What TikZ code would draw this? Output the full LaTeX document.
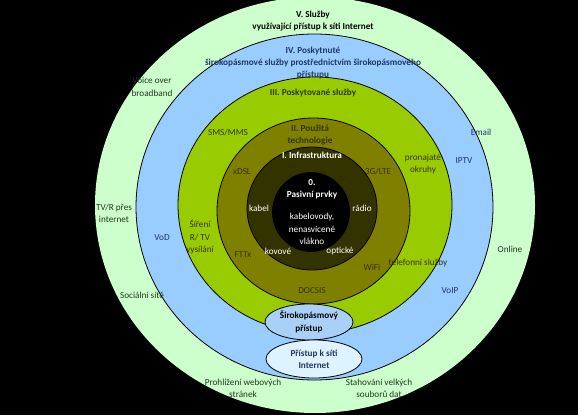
\documentclass[tikz,border=0pt]{standalone}
\usepackage{fontspec}
\setmainfont{Carlito}
\usepackage{tikz}
\usetikzlibrary{shapes.geometric}
\definecolor{cV}{HTML}{CCFFCC}
\definecolor{cIV}{HTML}{99CCFF}
\definecolor{cIII}{HTML}{99CC00}
\definecolor{cII}{HTML}{808000}
\definecolor{cI}{HTML}{333300}
\definecolor{cBrd}{HTML}{A9D1F7}
\definecolor{cNet}{HTML}{DDF3FF}
\definecolor{tV}{HTML}{1F3A1F}
\definecolor{tIV}{HTML}{1F3864}
\definecolor{tIII}{HTML}{333300}

\begin{document}
\begin{tikzpicture}[x=1pt,y=-1pt,
  ring/.style={draw=black, line width=0.8pt, fill=#1},
  txt/.style={font=\fontsize{9.2}{12.3}\selectfont, align=center, inner sep=0pt, text=#1},
  head/.style={txt=#1, font=\fontsize{9.2}{12.3}\selectfont\bfseries},
  bubble/.style={ellipse, draw=black, line width=0.8pt, fill=#1, inner sep=0pt,
     align=center, font=\fontsize{9.2}{12.3}\selectfont\bfseries},
]

% =================== BACKGROUND AND RINGS ===================
\useasboundingbox (0,0) rectangle (578,415);
\fill[black] (0,0) rectangle (578,415);

\fill[cV] (315,205) ellipse [x radius=220pt, y radius=208pt];
\draw[ring=cIV] (314.5,207) ellipse [x radius=178.5pt, y radius=173pt];
\draw[ring=cIII] (315,205) ellipse [x radius=137pt, y radius=128pt];
\draw[ring=cII] (313.5,211) ellipse [x radius=96.5pt, y radius=93pt];
\draw[ring=cI] (312,208.5) ellipse [x radius=65pt, y radius=61.5pt];
\draw[ring=black] (311,212) ellipse [x radius=38.5pt, y radius=39.5pt];

% =================== ACCESS BUBBLES ===================
\node[bubble=cBrd, minimum width=88pt, minimum height=36pt] (brd) at (309,322)
  {Širokopásmový\\přístup};
\node[bubble=cNet, minimum width=96pt, minimum height=38pt, text=tIV] (inet) at (314,359)
  {Přístup k síti\\Internet};

% =================== V. SERVICES USING INTERNET ===================
\node[head=black] (hV) at (313,21) {V. Služby\\využívající přístup k síti Internet};
\node[txt=tV] (vob) at (152,87) {Voice over\\broadband};
\node[txt=tV] (tvr) at (114,213) {TV/R přes\\internet};
\node[txt=tV] (soc) at (142,295) {Sociální sítě};
\node[txt=tV] (onl) at (510,249) {Online};
\node[txt=tV] (web) at (243,388) {Prohlížení webových\\stránek};
\node[txt=tV] (dwn) at (379,388) {Stahování velkých\\souborů dat};

% =================== IV. BROADBAND SERVICES ===================
\node[head=tIV] (hIV) at (313,63)
  {IV. Poskytnuté\\širokopásmové služby prostřednictvím širokopásmového\\přístupu};
\node[txt=tIV] (vod) at (162,238) {VoD};
\node[txt=tIV] (iptv) at (464,161) {IPTV};
\node[txt=tIV] (mail) at (481,132) {Email};
\node[txt=tIV] (voip) at (450,291) {VoIP};

% =================== III. SERVICES OFFERED ===================
\node[head=tIII] (hIII) at (313,93) {III. Poskytované služby};
\node[txt=tIII] (sms) at (228,132) {SMS/MMS};
\node[txt=tIII] (rtv) at (200,237) {Šíření\\R/ TV\\vysílání};
\node[txt=tIII] (okr) at (423,164) {pronajaté\\okruhy};
\node[txt=tIII] (tel) at (418,263) {telefonní služby};

% =================== II. TECHNOLOGY ===================
\node[head=tIII] (hII) at (310,135) {II. Použitá\\technologie};
\node[txt=tIII] (xdsl) at (242,172) {xDSL};
\node[txt=tIII] (lte) at (378,171) {3G/LTE};
\node[txt=tIII] (fttx) at (243,255) {FTTx};
\node[txt=tIII] (wifi) at (372,267) {WiFi};
\node[txt=tIII] (docsis) at (312,291) {DOCSIS};

% =================== I. INFRASTRUCTURE ===================
\node[head=white] (hI) at (312,155) {I. Infrastruktura};
\node[txt=white] (kab) at (259,208) {kabel};
\node[txt=white] (rad) at (362,208) {rádio};
\node[txt=white] (kov) at (278,251) {kovové};
\node[txt=white] (opt) at (340,251) {optické};

% =================== 0. PASSIVE ELEMENTS ===================
\node[head=white] (h0) at (312,189) {0.\\Pasivní prvky};
\node[txt=white] (pas) at (312,229) {kabelovody,\\nenasvícené\\vlákno};

\end{tikzpicture}
\end{document}
